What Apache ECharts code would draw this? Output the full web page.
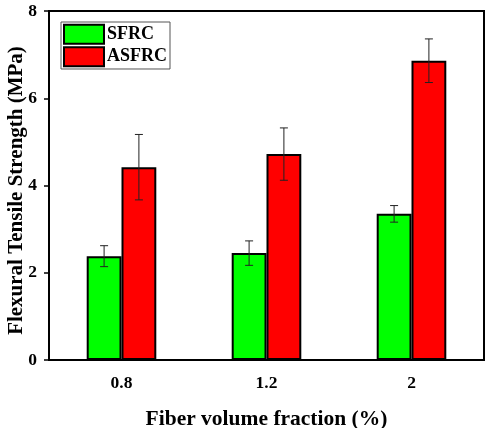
<html>
<head>
<script src="https://cdn.jsdelivr.net/npm/echarts@6/dist/echarts.min.js"></script>
<style>
    body { margin: 0; padding: 0; background: #fff; }
    #content { width: 490px; height: 428px; }
</style>
</head>
<body>
<div id="content"></div>
<script type="text/javascript">
    var categories = ['0.8', '1.2', '2'];
    var sfrc = [2.38, 2.45, 3.35];
    var sfrcErr = [0.24, 0.28, 0.19];
    var asfrc = [4.42, 4.72, 6.86];
    var asfrcErr = [0.75, 0.6, 0.5];
    var yTicks = [0, 2, 4, 6, 8];

    var serif = '"Times New Roman", "Liberation Serif", serif';

    // one error bar: vertical line plus two caps, shifted to the bar's centre
    function errorBars(values, errors, side) {
        return {
            type: 'custom',
            z: 5,
            silent: true,
            data: values.map(function (v, i) { return [i, v - errors[i], v + errors[i]]; }),
            renderItem: function (params, api) {
                var band = api.size([1, 0])[0];
                var shift = side * band * 0.12;
                var lo = api.coord([api.value(0), api.value(1)]);
                var hi = api.coord([api.value(0), api.value(2)]);
                var x = lo[0] + shift;
                var cap = 4;
                var style = { stroke: '#222', lineWidth: 1 };
                return {
                    type: 'group',
                    children: [
                        { type: 'line', shape: { x1: x, y1: lo[1], x2: x, y2: hi[1] }, style: style },
                        { type: 'line', shape: { x1: x - cap, y1: lo[1], x2: x + cap, y2: lo[1] }, style: style },
                        { type: 'line', shape: { x1: x - cap, y1: hi[1], x2: x + cap, y2: hi[1] }, style: style }
                    ]
                };
            }
        };
    }

    var chart = echarts.init(document.getElementById('content'));
    var option = {
        animation: false,
        grid: {
            left: 49, right: 6, top: 11, bottom: 68,
            containLabel: false,
            outerBoundsMode: 'none',
            show: true, borderColor: '#000', borderWidth: 2
        },
        legend: {
            data: ['SFRC', 'ASFRC'],
            orient: 'vertical',
            left: 61, top: 22,
            padding: [-2, 3, -2, 2],
            itemGap: -6,
            itemWidth: 40,
            itemHeight: 19,
            borderColor: '#555',
            borderWidth: 1,
            icon: 'rect',
            textStyle: { fontFamily: serif, fontWeight: 'bold', fontSize: 18, color: '#000', padding: [0, 0, 0, -2] }
        },
        xAxis: [{
            type: 'category',
            data: categories,
            name: 'Fiber volume fraction (%)',
            nameLocation: 'middle',
            nameGap: 35,
            nameTextStyle: { fontFamily: serif, fontWeight: 'bold', fontSize: 21.5, color: '#000' },
            axisLine: { lineStyle: { color: '#000', width: 2 } },
            axisTick: { alignWithLabel: true, length: 5, lineStyle: { color: '#000', width: 1.5 } },
            axisLabel: { fontFamily: serif, fontWeight: 'bold', fontSize: 17.5, color: '#000', margin: 10 }
        }, {
            type: 'category',
            data: categories,
            position: 'bottom',
            axisLine: { show: false },
            axisTick: { length: 3, lineStyle: { color: '#000', width: 1.5 } },
            axisLabel: { show: false }
        }],
        yAxis: {
            type: 'value',
            min: yTicks[0],
            max: yTicks[yTicks.length - 1],
            interval: 2,
            name: 'Flexural Tensile Strength (MPa)',
            nameLocation: 'middle',
            nameGap: 16,
            nameMoveOverlap: false,
            nameTextStyle: { fontFamily: serif, fontWeight: 'bold', fontSize: 21, color: '#000', padding: [0, 10, 0, 0] },
            splitLine: { show: false },
            axisLine: { show: true, lineStyle: { color: '#000', width: 2 } },
            axisTick: { show: true, length: 5, lineStyle: { color: '#000', width: 1.5 } },
            axisLabel: { fontFamily: serif, fontWeight: 'bold', fontSize: 17.5, color: '#000', margin: 12 }
        },
        series: [{
            name: 'SFRC',
            type: 'bar',
            data: sfrc,
            barWidth: '24%',
            barGap: '0%',
            itemStyle: { color: '#00ff00', borderColor: '#000', borderWidth: 2 }
        }, {
            name: 'ASFRC',
            type: 'bar',
            data: asfrc,
            barWidth: '24%',
            barGap: '0%',
            itemStyle: { color: '#ff0000', borderColor: '#000', borderWidth: 2 }
        },
        errorBars(sfrc, sfrcErr, -1),
        errorBars(asfrc, asfrcErr, 1)
        ]
    };
    chart.setOption(option);
</script>
</body>
</html>
